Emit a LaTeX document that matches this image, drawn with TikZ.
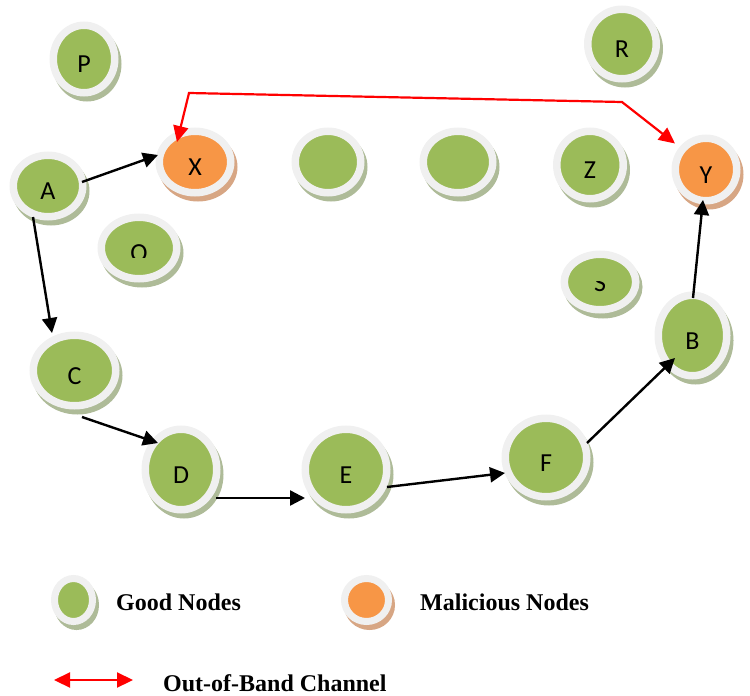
\documentclass[tikz,border=0pt]{standalone}
\usepackage{fontspec}
\setmainfont{Liberation Serif}
\newfontfamily\lblfont{Carlito}
\usetikzlibrary{arrows.meta,calc,shapes.geometric}
\definecolor{gfill}{HTML}{9BBB59}
\definecolor{ofill}{HTML}{F79646}
\definecolor{ringc}{HTML}{F0F0F0}
\definecolor{gshad}{HTML}{AEBB98}
\definecolor{oshad}{HTML}{D7A684}
\tikzset{
  netnode/.style={ellipse, inner sep=0pt, draw=ringc, line width=7.5pt,
    text height=27pt, text depth=0pt, font=\lblfont\fontsize{26}{26}\selectfont},
  good/.style={netnode, fill=gfill,
    preaction={draw=gshad, fill=gshad, transform canvas={shift={(3pt,-5pt)}}}},
  bad/.style={netnode, fill=ofill,
    preaction={draw=oshad, fill=oshad, transform canvas={shift={(3pt,-5pt)}}}},
  sz/.style 2 args={minimum width=#1pt, minimum height=#2pt},
  lbltext/.style={inner sep=0pt, text height=27pt, text depth=0pt,
    font=\lblfont\fontsize{26}{26}\selectfont},
  link/.style={line width=2.4pt, -{Triangle[length=15pt,width=15pt]}},
  oob/.style={red, line width=2.2pt,
    {Triangle[length=16pt,width=15pt]}-{Triangle[length=16pt,width=15pt]}},
  legtext/.style={anchor=base west, inner sep=0pt,
    font=\bfseries\fontsize{24}{24}\selectfont},
}
\begin{document}
\begin{tikzpicture}[x=1pt,y=-1pt]
\useasboundingbox (0,0) rectangle (750,696);
% nodes
\node[good, sz={61.5}{67.5}] (P) at (84,59) {P};
\node[good, sz={68.5}{69.5}] (R) at (622,44) {R};
\node[good, sz={69.5}{61.5}] (A) at (48,186) {A};
\node[bad,  sz={71.5}{61.5}] (X) at (195,162) {X};
\node[good, sz={65.5}{61.5}] (N1) at (328,162) {};
\node[good, sz={69.5}{61.5}] (N2) at (458,162) {};
\node[good, sz={66.5}{67.5}] (Z) at (590,165) {Z};
\node[bad,  sz={61.5}{62.5}] (Y) at (706,169.5) {Y};
\node[good, sz={75.5}{61.5}] (O) at (139,248) {};
\node[good, sz={71.5}{55.5}] (S) at (600,282) {};
\node[good, sz={82.5}{70.5}] (C) at (74.5,370.5) {C};
\node[good, sz={71.5}{80.5}] (D) at (181,469.5) {D};
\node[good, sz={81.5}{80.5}] (E) at (346,469.5) {E};
\node[good, sz={81.5}{78.5}] (F) at (546,457.5) {F};
\node[good, sz={68.5}{80.5}] (B) at (692.5,335.5) {B};
% clipped labels
\begin{scope}
  \clip (100,230) rectangle (180,257);
  \node[lbltext] (Olbl) at (O) {O};
\end{scope}
\begin{scope}
  \clip (570,281) rectangle (630,300);
  \node[lbltext] (Slbl) at (600,278) {S};
\end{scope}
% links
\draw[link] ($(A)+(34,-4)$) -- ($(X)+(-37,-7)$);
\draw[link] ($(A)+(-15,31)$) -- ($(C)+(-22.5,-37.5)$);
\draw[link] ($(C)+(7.5,46.5)$) -- ($(D)+(-23,-26.5)$);
\draw[link] ($(D)+(35,28.5)$) -- ($(E)+(-41,28.5)$);
\draw[link] ($(E)+(41,17.5)$) -- ($(F)+(-41,15.5)$);
\draw[link] ($(F)+(41,-14.5)$) -- ($(B)+(-17.5,22.5)$);
\draw[link] ($(B)+(0.5,-37.5)$) -- ($(Y)+(-3,30.5)$);
% out-of-band channel
\coordinate (rb1) at (189,93);
\coordinate (rb2) at (622,102);
\draw[oob] ($(X)+(-18,-20)$) -- (rb1) -- (rb2) -- ($(Y)+(-31,-26)$);
% legend
\node[good, line width=7pt, sz={38}{43}] (LG) at (73.5,600) {};
\node[bad, line width=7pt, sz={44}{43}] (LM) at (366.5,600) {};
\node[legtext] (LGt) at (116,610) {Good Nodes};
\node[legtext] (LMt) at (420,610) {Malicious Nodes};
\coordinate (oobL) at (54,680);
\coordinate (oobR) at (133,680);
\draw[oob] (oobL) -- (oobR);
\node[legtext] (LOt) at (163,691) {Out-of-Band Channel};
\end{tikzpicture}
\end{document}
